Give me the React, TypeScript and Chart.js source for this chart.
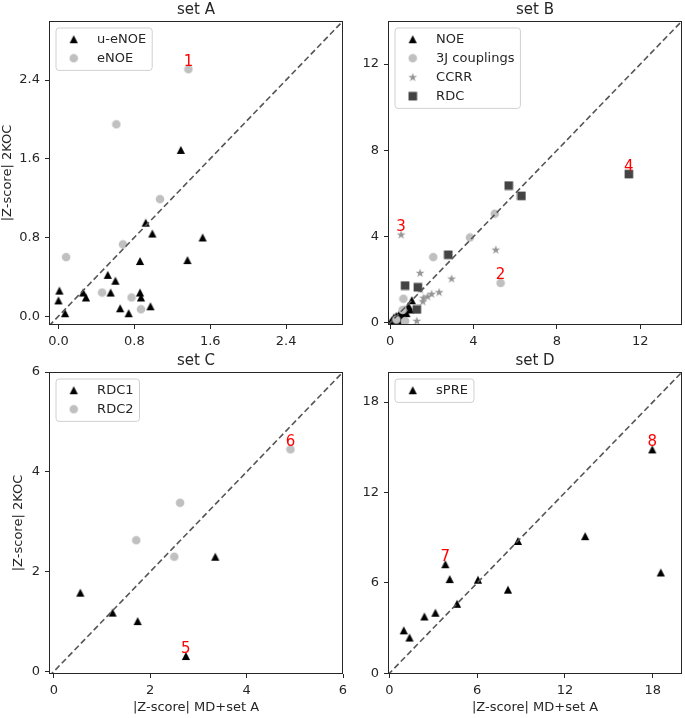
import React, { useEffect, useRef } from 'react';
import { Chart, registerables } from 'chart.js';

Chart.register(...registerables);

const W = 685;
const H = 718;
const FONT = 'DejaVu Sans';
const TEXT = '#262626';
const SPINE = '#262626';

// ---------------- data ----------------
// set A
const setA_uENOE: number[][] = [
  [0.01, 0.26], [0.0, 0.16], [0.07, 0.03], [0.26, 0.24], [0.29, 0.19], [0.52, 0.42],
  [0.6, 0.36], [0.55, 0.24], [0.65, 0.08], [0.74, 0.03], [0.86, 0.56], [0.86, 0.24],
  [0.87, 0.19], [0.97, 0.1], [0.92, 0.95], [0.99, 0.84], [1.29, 1.69], [1.36, 0.57], [1.52, 0.8],
];
const setA_eNOE: number[][] = [
  [1.37, 2.51], [0.61, 1.95], [1.07, 1.19], [0.68, 0.73], [0.08, 0.6], [0.46, 0.24], [0.77, 0.19], [0.87, 0.07],
];
// set B
const setB_NOE: number[][] = [
  [0.02, 0.02], [0.08, 0.12], [0.12, 0.05], [0.18, 0.25], [0.25, 0.15], [0.3, 0.32], [0.35, 0.08],
  [0.42, 0.38], [0.48, 0.2], [0.55, 0.5], [0.62, 0.35], [0.7, 0.62], [0.78, 0.45], [0.88, 0.78],
  [0.96, 0.62], [1.04, 1.05], [0.2, 0.0], [0.4, 0.05],
];
const setB_3J: number[][] = [
  [5.3, 1.85], [5.02, 5.06], [3.83, 3.96], [2.07, 3.05], [0.64, 1.12], [0.72, 0.08], [0.6, 0.6], [0.3, 0.15],
];
const setB_CCRR: number[][] = [
  [0.53, 4.09], [5.07, 3.39], [2.95, 2.05], [1.44, 2.31], [2.35, 1.42], [1.99, 1.34], [1.8, 1.22],
  [1.6, 1.16], [1.57, 0.99], [1.28, 0.09], [1.45, 1.55],
];
const setB_RDC: number[][] = [
  [5.69, 6.37], [6.3, 5.89], [11.45, 6.9], [2.79, 3.16], [0.72, 1.73], [1.33, 1.65], [1.28, 0.62],
];
// set C
const setC_RDC1: number[][] = [[0.55, 1.58], [1.22, 1.18], [1.74, 1.01], [2.74, 0.31], [3.35, 2.3]];
const setC_RDC2: number[][] = [[1.71, 2.63], [2.62, 3.38], [2.5, 2.3], [4.91, 4.45]];
// set D
const setD_sPRE: number[][] = [
  [0.98, 2.85], [1.37, 2.37], [2.39, 3.77], [3.14, 4.02], [3.82, 7.24], [4.12, 6.25], [4.62, 4.61],
  [6.05, 6.21], [8.1, 5.55], [8.78, 8.78], [13.38, 9.1], [17.97, 14.86], [18.55, 6.69],
];

// ticks
const ticksA = [0, 0.8, 1.6, 2.4];
const tickLabelsA = ['0.0', '0.8', '1.6', '2.4'];
const ticksB = [0, 4, 8, 12];
const tickLabelsB = ['0', '4', '8', '12'];
const ticksC = [0, 2, 4, 6];
const tickLabelsC = ['0', '2', '4', '6'];
const ticksD = [0, 6, 12, 18];
const tickLabelsD = ['0', '6', '12', '18'];

// axis limits
const limA_x = [-0.1, 3.0];
const limA_y = [-0.09, 3.0];
const limB_x = [-0.1, 14];
const limB_y = [-0.1, 14];
const limC_x = [-0.1, 6];
const limC_y = [-0.05, 6];
const limD_x = [-0.1, 20];
const limD_y = [-0.05, 20];

const Y_LABEL = '|Z-score| 2KOC';
const X_LABEL = '|Z-score| MD+set A';

// ---------------- styles ----------------
function makeMarker(kind: string, color: string): HTMLCanvasElement {
  const c = document.createElement('canvas');
  c.width = 10;
  c.height = 10;
  const g = c.getContext('2d')!;
  g.fillStyle = color;
  g.beginPath();
  if (kind === 'triangle') {
    g.moveTo(5, 1);
    g.lineTo(9.1, 9);
    g.lineTo(0.9, 9);
    g.closePath();
  } else if (kind === 'square') {
    g.rect(0.7, 0.7, 8.6, 8.6);
  } else if (kind === 'star') {
    for (let i = 0; i < 10; i++) {
      const r = i % 2 === 0 ? 4.7 : 1.8;
      const a = -Math.PI / 2 + (i * Math.PI) / 5;
      const px = 5 + r * Math.cos(a);
      const py = 5.3 + r * Math.sin(a);
      if (i === 0) g.moveTo(px, py);
      else g.lineTo(px, py);
    }
    g.closePath();
  } else {
    g.arc(5, 5, 4.3, 0, Math.PI * 2);
  }
  g.fill();
  return c;
}

type Series = { label: string; data: number[][]; marker: string; color: string };
type Note = { text: string; series: number; index: number };
type PanelCfg = {
  title: string;
  area: { left: number; right: number; top: number; bottom: number };
  xLim: number[];
  yLim: number[];
  xTicks: number[];
  xTickLabels: string[];
  yTicks: number[];
  yTickLabels: string[];
  xTitle?: string;
  xTitleY?: number;
  yTitle?: string;
  yTitleX?: number;
  series: Series[];
  notes: Note[];
};

const panels: PanelCfg[] = [
  {
    title: 'set A',
    area: { left: 49, right: 343, top: 21, bottom: 325 },
    xLim: limA_x, yLim: limA_y,
    xTicks: ticksA, xTickLabels: tickLabelsA, yTicks: ticksA, yTickLabels: tickLabelsA,
    yTitle: Y_LABEL, yTitleX: 8,
    series: [
      { label: 'u-eNOE', data: setA_uENOE, marker: 'triangle', color: '#000000' },
      { label: 'eNOE', data: setA_eNOE, marker: 'circle', color: '#c0c0c0' },
    ],
    notes: [{ text: '1', series: 1, index: 0 }],
  },
  {
    title: 'set B',
    area: { left: 388, right: 682, top: 21, bottom: 325 },
    xLim: limB_x, yLim: limB_y,
    xTicks: ticksB, xTickLabels: tickLabelsB, yTicks: ticksB, yTickLabels: tickLabelsB,
    series: [
      { label: 'NOE', data: setB_NOE, marker: 'triangle', color: '#000000' },
      { label: '3J couplings', data: setB_3J, marker: 'circle', color: '#c0c0c0' },
      { label: 'CCRR', data: setB_CCRR, marker: 'star', color: '#959595' },
      { label: 'RDC', data: setB_RDC, marker: 'square', color: '#444444' },
    ],
    notes: [
      { text: '2', series: 1, index: 0 },
      { text: '3', series: 2, index: 0 },
      { text: '4', series: 3, index: 2 },
    ],
  },
  {
    title: 'set C',
    area: { left: 49, right: 343, top: 372, bottom: 674 },
    xLim: limC_x, yLim: limC_y,
    xTicks: ticksC, xTickLabels: tickLabelsC, yTicks: ticksC, yTickLabels: tickLabelsC,
    yTitle: Y_LABEL, yTitleX: 19,
    xTitle: X_LABEL, xTitleY: 708,
    series: [
      { label: 'RDC1', data: setC_RDC1, marker: 'triangle', color: '#000000' },
      { label: 'RDC2', data: setC_RDC2, marker: 'circle', color: '#c0c0c0' },
    ],
    notes: [
      { text: '5', series: 0, index: 3 },
      { text: '6', series: 1, index: 3 },
    ],
  },
  {
    title: 'set D',
    area: { left: 388, right: 682, top: 372, bottom: 674 },
    xLim: limD_x, yLim: limD_y,
    xTicks: ticksD, xTickLabels: tickLabelsD, yTicks: ticksD, yTickLabels: tickLabelsD,
    xTitle: X_LABEL, xTitleY: 708,
    series: [{ label: 'sPRE', data: setD_sPRE, marker: 'triangle', color: '#000000' }],
    notes: [
      { text: '7', series: 0, index: 4 },
      { text: '8', series: 0, index: 11 },
    ],
  },
];

function Panel({ cfg }: { cfg: PanelCfg }) {
  const ref = useRef<HTMLCanvasElement>(null);
  useEffect(() => {
    const canvas = ref.current!;
    const a = cfg.area;
    const half = 13 * 1.2 / 2;
    const padLeft = cfg.yTitle ? (cfg.yTitleX as number) - half : a.left - 40;
    const yWidth = a.left - padLeft;
    const xBottom = cfg.xTitle ? (cfg.xTitleY as number) + half : a.bottom + 30;
    const padBottom = H - xBottom;
    const xHeight = xBottom - a.bottom;
    const lo = Math.min(cfg.xLim[0], cfg.yLim[0]);
    const hi = Math.max(cfg.xLim[1], cfg.yLim[1]);
    const markers = cfg.series.map((s) => makeMarker(s.marker, s.color));

    const datasets: any[] = cfg.series.map((s, i) => ({
      label: s.label,
      data: s.data.map(([x, y]) => ({ x, y })),
      pointStyle: markers[i],
      pointRadius: 5,
      pointHoverRadius: 5,
      backgroundColor: s.color,
      borderColor: s.color,
      borderWidth: 0,
      showLine: false,
      order: cfg.series.length - i,
    }));
    datasets.push({
      label: 'diagonal',
      data: [{ x: lo, y: lo }, { x: hi, y: hi }],
      showLine: true,
      pointRadius: 0,
      pointHoverRadius: 0,
      borderColor: '#555555',
      borderWidth: 1.6,
      borderDash: [6, 3.2],
      fill: false,
      order: 0,
    });

    const overlay = {
      id: 'overlay',
      afterDraw(chart: any) {
        const ctx = chart.ctx as CanvasRenderingContext2D;
        const ca = chart.chartArea;
        const xs = chart.scales.x;
        const ys = chart.scales.y;
        ctx.save();
        // frame
        ctx.strokeStyle = SPINE;
        ctx.lineWidth = 1;
        const l = Math.round(ca.left) + 0.5;
        const t = Math.round(ca.top) + 0.5;
        const r = Math.round(ca.right) - 0.5;
        const b = Math.round(ca.bottom) - 0.5;
        ctx.strokeRect(l, t, r - l, b - t);
        // title
        ctx.fillStyle = TEXT;
        ctx.font = `15px '${FONT}'`;
        ctx.textAlign = 'center';
        ctx.textBaseline = 'alphabetic';
        ctx.fillText(cfg.title, (ca.left + ca.right) / 2, ca.top - 7);
        // notes
        ctx.fillStyle = '#ff0000';
        ctx.font = `15px '${FONT}'`;
        cfg.notes.forEach((n) => {
          const p = cfg.series[n.series].data[n.index];
          const px = xs.getPixelForValue(p[0]);
          const py = ys.getPixelForValue(p[1]);
          ctx.fillText(n.text, px, py - 3.5);
        });
        // legend
        ctx.font = `13px '${FONT}'`;
        const maxW = Math.max(...cfg.series.map((s) => ctx.measureText(s.label).width));
        const fx = ca.left + 6.5;
        const fy = ca.top + 6.5;
        const fw = 41.6 + maxW + 5.5;
        const fh = 23.4 + (cfg.series.length - 1) * 19;
        ctx.beginPath();
        (ctx as any).roundRect(fx + 0.5, fy + 0.5, fw, fh, 3);
        ctx.fillStyle = 'rgba(255,255,255,0.8)';
        ctx.fill();
        ctx.strokeStyle = '#d0d0d0';
        ctx.lineWidth = 1;
        ctx.stroke();
        ctx.textAlign = 'left';
        ctx.textBaseline = 'middle';
        cfg.series.forEach((s, i) => {
          const cy = fy + 11.7 + i * 19;
          const m = markers[i];
          ctx.drawImage(m, fx + 18.2 - m.width / 2, cy - m.height / 2);
          ctx.fillStyle = TEXT;
          ctx.fillText(s.label, fx + 41.6, cy + 0.5);
        });
        ctx.restore();
      },
    };

    const tickFont = { family: FONT, size: 13 };
    const chart = new Chart(canvas, {
      type: 'scatter',
      data: { datasets },
      plugins: [overlay],
      options: {
        responsive: false,
        animation: false,
        devicePixelRatio: 1,
        events: [],
        layout: {
          autoPadding: false,
          padding: { left: padLeft, right: W - a.right, top: a.top, bottom: padBottom },
        },
        plugins: {
          legend: { display: false },
          tooltip: { enabled: false },
          title: { display: false },
        },
        scales: {
          x: {
            type: 'linear',
            position: 'bottom',
            min: cfg.xLim[0],
            max: cfg.xLim[1],
            afterBuildTicks: (s: any) => {
              s.ticks = cfg.xTicks.map((v) => ({ value: v }));
            },
            afterFit: (s: any) => {
              s.height = xHeight;
            },
            ticks: {
              font: tickFont,
              color: TEXT,
              padding: 5,
              maxRotation: 0,
              autoSkip: false,
              includeBounds: false,
              callback: (_v: any, i: number) => cfg.xTickLabels[i],
            },
            grid: { display: true, drawOnChartArea: false, drawTicks: true, tickLength: 4, color: SPINE },
            border: { display: false },
            title: {
              display: !!cfg.xTitle,
              text: cfg.xTitle || '',
              font: { family: FONT, size: 13 },
              color: TEXT,
              padding: 0,
            },
          },
          y: {
            type: 'linear',
            position: 'left',
            min: cfg.yLim[0],
            max: cfg.yLim[1],
            afterBuildTicks: (s: any) => {
              s.ticks = cfg.yTicks.map((v) => ({ value: v }));
            },
            afterFit: (s: any) => {
              s.width = yWidth;
            },
            ticks: {
              font: tickFont,
              color: TEXT,
              padding: 5,
              autoSkip: false,
              includeBounds: false,
              callback: (_v: any, i: number) => cfg.yTickLabels[i],
            },
            grid: { display: true, drawOnChartArea: false, drawTicks: true, tickLength: 4, color: SPINE },
            border: { display: false },
            title: {
              display: !!cfg.yTitle,
              text: cfg.yTitle || '',
              font: { family: FONT, size: 13 },
              color: TEXT,
              padding: 0,
            },
          },
        },
      } as any,
    });
    return () => chart.destroy();
  }, [cfg]);
  return (
    <canvas
      ref={ref}
      width={W}
      height={H}
      style={{ position: 'absolute', left: 0, top: 0, width: W, height: H }}
    />
  );
}

export default function App() {
  return (
    <div style={{ position: 'fixed', left: 0, top: 0, width: W, height: H, background: '#ffffff' }}>
      {panels.map((p) => (
        <Panel key={p.title} cfg={p} />
      ))}
    </div>
  );
}
